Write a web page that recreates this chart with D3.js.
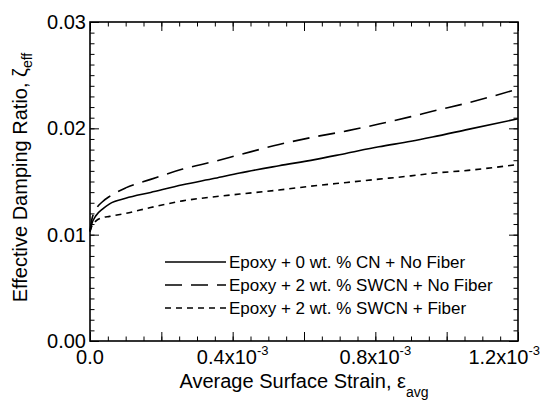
<!DOCTYPE html>
<html>
<head>
<meta charset="utf-8">
<script src="https://cdn.jsdelivr.net/npm/d3@7"></script>
<style>
  body { margin: 0; background: #fff; }
  text { font-family: "Liberation Sans", Arial, sans-serif; fill: #000; }
</style>
</head>
<body>
<script>
// strain values (x 1e-3) shared by all three curves
const strain = [0, 0.005, 0.017, 0.035, 0.055, 0.1, 0.17, 0.26, 0.35, 0.42, 0.53, 0.63, 0.72, 0.81, 0.9, 0.96, 1.06, 1.2]

const neatEpoxy = [0.0103, 0.0110, 0.0118, 0.0124, 0.0129, 0.01342, 0.01397, 0.01469, 0.0153, 0.0158, 0.01648, 0.01706, 0.01766, 0.01826, 0.01878, 0.01918, 0.0199, 0.0209]
const swcnNoFiber = [0.0103, 0.0114, 0.0124, 0.0131, 0.0136, 0.0144, 0.0152, 0.01617, 0.0169, 0.01752, 0.01848, 0.0192, 0.01976, 0.0204, 0.0211, 0.0216, 0.0224, 0.0237]
const swcnFiber = [0.0103, 0.0108, 0.0113, 0.0116, 0.01172, 0.0120, 0.01255, 0.01318, 0.01357, 0.01382, 0.0142, 0.0146, 0.01491, 0.01522, 0.01553, 0.01577, 0.01605, 0.0166]

const seriesNames = [
  'Epoxy + 0 wt. % CN + No Fiber',
  'Epoxy + 2 wt. % SWCN + No Fiber',
  'Epoxy + 2 wt. % SWCN + Fiber'
]
const seriesDash = ['none', '17,9', '6,5']

const xTickValues = [0, 0.4e-3, 0.8e-3, 1.2e-3]
const xTickMantissa = ['0.0', '0.4x10', '0.8x10', '1.2x10']
const xTickExponent = ['', '-3', '-3', '-3']
const yTickValues = [0, 0.01, 0.02, 0.03]
const yTickLabels = ['0.00', '0.01', '0.02', '0.03']

const width = 542
const height = 404
const margin = { top: 22, right: 24, bottom: 63, left: 90 }

const svg = d3.select('body')
  .append('svg')
  .attr('width', width)
  .attr('height', height)

const x = d3.scaleLinear().domain([0, 1.2e-3]).range([margin.left, width - margin.right])
const y = d3.scaleLinear().domain([0, 0.03]).range([height - margin.bottom, margin.top])

const x0 = x.range()[0], x1 = x.range()[1]
const y0 = y.range()[0], y1 = y.range()[1]

// inside ticks on all four sides
const xMinor = d3.range(0, 1.2e-3 + 1e-9, 0.05e-3)
const xMajor = d3.range(0, 1.2e-3 + 1e-9, 0.2e-3)
const yMinor = d3.range(0, 0.03 + 1e-9, 0.001)
const yMajor = yTickValues

function tickAxis(axisFn, scale, vals, size, transform) {
  svg.append('g')
    .attr('transform', transform)
    .call(axisFn(scale).tickValues(vals).tickSize(size).tickFormat(''))
    .call(g => g.select('.domain').remove())
    .call(g => g.selectAll('line').attr('stroke', '#000').attr('stroke-width', 1))
}

tickAxis(d3.axisBottom, x, xMinor, -4.5, `translate(0,${y0})`)
tickAxis(d3.axisBottom, x, xMajor, -9, `translate(0,${y0})`)
tickAxis(d3.axisTop, x, xMinor, -4.5, `translate(0,${y1})`)
tickAxis(d3.axisTop, x, xMajor, -9, `translate(0,${y1})`)
tickAxis(d3.axisLeft, y, yMinor, -4.5, `translate(${x0},0)`)
tickAxis(d3.axisLeft, y, yMajor, -9, `translate(${x0},0)`)
tickAxis(d3.axisRight, y, yMinor, -4.5, `translate(${x1},0)`)
tickAxis(d3.axisRight, y, yMajor, -9, `translate(${x1},0)`)

// frame
svg.append('rect')
  .attr('x', x0).attr('y', y1)
  .attr('width', x1 - x0).attr('height', y0 - y1)
  .attr('fill', 'none').attr('stroke', '#000').attr('stroke-width', 1.6)

// y tick labels
svg.selectAll('.ylab')
  .data(yTickValues)
  .join('text')
  .attr('x', x0 - 4)
  .attr('y', d => y(d) + 7)
  .attr('text-anchor', 'end')
  .attr('font-size', 20)
  .text((d, i) => yTickLabels[i])

// x tick labels with superscript exponent
xTickValues.forEach((v, i) => {
  const t = svg.append('text')
    .attr('y', y0 + 23)
    .attr('font-size', 20)
  t.append('tspan').text(xTickMantissa[i])
  if (xTickExponent[i]) {
    t.append('tspan').attr('font-size', 13).attr('dy', -9).text(xTickExponent[i])
  }
  const w = t.node().getComputedTextLength()
  let left = x(v) - w / 2
  if (left + w > width - 2) left = width - 2 - w
  t.attr('x', left)
})

// axis titles
const xt = svg.append('text')
  .attr('x', (x0 + x1) / 2)
  .attr('y', height - 16)
  .attr('text-anchor', 'middle')
  .attr('font-size', 20)
xt.append('tspan').text('Average Surface Strain, \u03b5')
xt.append('tspan').attr('font-size', 14).attr('dy', 9).text('avg')

const yt = svg.append('text')
  .attr('transform', `translate(27,${(y0 + y1) / 2 - 4}) rotate(-90)`)
  .attr('text-anchor', 'middle')
  .attr('font-size', 20)
yt.append('tspan').text('Effective Damping Ratio, \u03b6')
yt.append('tspan').attr('font-size', 14).attr('dy', 5).text('eff')

// curves
const allSeries = [neatEpoxy, swcnNoFiber, swcnFiber]
const line = d3.line()
  .x((d, i) => x(strain[i] * 1e-3))
  .y(d => y(d))
  .curve(d3.curveMonotoneX)

svg.selectAll('.curve')
  .data(allSeries)
  .join('path')
  .attr('d', line)
  .attr('fill', 'none')
  .attr('stroke', '#000')
  .attr('stroke-width', 1.6)
  .attr('stroke-dasharray', (d, i) => seriesDash[i])

// legend
const legendY = [262, 285, 308]
seriesNames.forEach((name, i) => {
  svg.append('line')
    .attr('x1', 165).attr('x2', 226)
    .attr('y1', legendY[i]).attr('y2', legendY[i])
    .attr('stroke', '#000')
    .attr('stroke-width', 1.4)
    .attr('stroke-dasharray', seriesDash[i])
  svg.append('text')
    .attr('x', 229)
    .attr('y', legendY[i] + 6)
    .attr('font-size', 17)
    .text(name)
})
</script>
</body>
</html>
